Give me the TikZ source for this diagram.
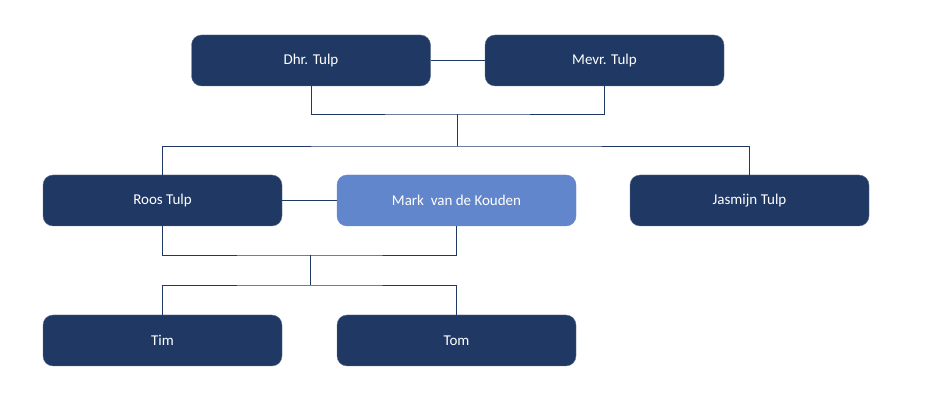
\documentclass[tikz,border=0pt]{standalone}
\usepackage{fontspec}
\setmainfont{Carlito}
\definecolor{navy}{HTML}{1F3864}
\definecolor{lblue}{HTML}{6186CC}
\begin{document}
\begin{tikzpicture}[x=1pt,y=-1pt,
  person/.style={draw=navy!70,fill=navy,text=white,rounded corners=10pt,minimum width=239pt,minimum height=51pt,font=\fontsize{15}{18}\selectfont,inner sep=0pt},
  link/.style={draw=navy,line width=0.8pt}]
\useasboundingbox (0,0) rectangle (930,403);
\node[person] (dhr) at (311,60.5) {Dhr. Tulp};
\node[person] (mevr) at (604.5,60.5) {Mevr. Tulp};
\node[person] (roos) at (162.5,200.5) {Roos Tulp};
\node[person,fill=lblue,draw=lblue] (mark) at (456.5,200.5) {Mark\ \ van de Kouden};
\node[person] (jas) at (749.5,200.5) {Jasmijn Tulp};
\node[person] (tim) at (162.5,340.5) {Tim};
\node[person] (tom) at (456.5,340.5) {Tom};
\coordinate (p1) at (457,114);
\coordinate (p2) at (457,146);
\coordinate (q1) at (310,255);
\coordinate (q2) at (310,285);
\draw[link] (dhr) -- (mevr);
\draw[link] (dhr.south) |- (p1) -| (mevr.south);
\draw[link] (p1) -- (p2);
\draw[link] (roos.north) |- (p2) -| (jas.north);
\draw[link] (roos) -- (mark);
\draw[link] (roos.south) |- (q1) -| (mark.south);
\draw[link] (q1) -- (q2);
\draw[link] (tim.north) |- (q2) -| (tom.north);
\end{tikzpicture}
\end{document}
